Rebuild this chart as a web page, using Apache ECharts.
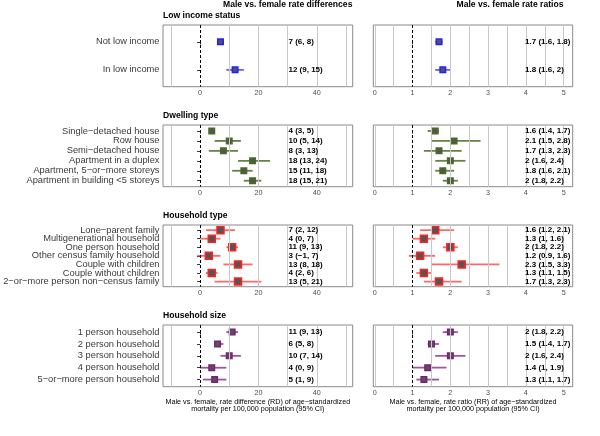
<!DOCTYPE html>
<html>
<head>
<meta charset="utf-8">
<script src="https://cdn.jsdelivr.net/npm/echarts@6/dist/echarts.min.js"></script>
<style>html,body{margin:0;padding:0;background:#fff}#c{width:600px;height:436px}</style>
</head>
<body>
<div id="c"></div>
<script>
// ---- Data ----
const sectionTitles = ['Low income status', 'Dwelling type', 'Household type', 'Household size'];

const incomeLabels = ['Not low income', 'In low income'];
const incomeRD = [7, 12];
const incomeRDLo = [6, 9];
const incomeRDHi = [8, 15];
const incomeRR = [1.7, 1.8];
const incomeRRLo = [1.6, 1.6];
const incomeRRHi = [1.8, 2];

const dwellingLabels = ['Single−detached house', 'Row house', 'Semi−detached house', 'Apartment in a duplex',
  'Apartment, 5−or−more storeys', 'Apartment in building <5 storeys'];
const dwellingRD = [4, 10, 8, 18, 15, 18];
const dwellingRDLo = [3, 5, 3, 13, 11, 15];
const dwellingRDHi = [5, 14, 13, 24, 18, 21];
const dwellingRR = [1.6, 2.1, 1.7, 2, 1.8, 2];
const dwellingRRLo = [1.4, 1.5, 1.3, 1.6, 1.6, 1.8];
const dwellingRRHi = [1.7, 2.8, 2.3, 2.4, 2.1, 2.2];

const hhTypeLabels = ['Lone−parent family', 'Multigenerational household', 'One person household',
  'Other census family household', 'Couple with children', 'Couple without children', '2−or−more person non−census family'];
const hhTypeRD = [7, 4, 11, 3, 13, 4, 13];
const hhTypeRDLo = [2, 0, 9, -1, 8, 2, 5];
const hhTypeRDHi = [12, 7, 13, 7, 18, 6, 21];
const hhTypeRR = [1.6, 1.3, 2, 1.2, 2.3, 1.3, 1.7];
const hhTypeRRLo = [1.2, 1, 1.8, 0.9, 1.5, 1.1, 1.3];
const hhTypeRRHi = [2.1, 1.6, 2.2, 1.6, 3.3, 1.5, 2.3];

const hhSizeLabels = ['1 person household', '2 person household', '3 person household', '4 person household', '5−or−more person household'];
const hhSizeRD = [11, 6, 10, 4, 5];
const hhSizeRDLo = [9, 5, 7, 0, 1];
const hhSizeRDHi = [13, 8, 14, 9, 9];
const hhSizeRR = [2, 1.5, 2, 1.4, 1.3];
const hhSizeRRLo = [1.8, 1.4, 1.6, 1, 1.1];
const hhSizeRRHi = [2.2, 1.7, 2.4, 1.9, 1.7];

const rdTicks = [0, 20, 40];
const rdGridValues = [-10, 10, 20, 30, 40, 50];
const rrTicks = [0, 1, 2, 3, 4, 5];
const rrGridValues = [0, 0.5, 1.5, 2, 2.5, 3, 3.5, 4, 4.5, 5];

// ---- Styling / layout ----
const FONT = 'Liberation Sans, Arial, Helvetica, sans-serif';
const sections = [
  {labels: incomeLabels, rd: [incomeRD, incomeRDLo, incomeRDHi], rr: [incomeRR, incomeRRLo, incomeRRHi], color: '#2020ff', line: 'rgba(40,40,255,0.75)', size: 5.5},
  {labels: dwellingLabels, rd: [dwellingRD, dwellingRDLo, dwellingRDHi], rr: [dwellingRR, dwellingRRLo, dwellingRRHi], color: '#4a6b22', line: 'rgba(74,107,34,0.85)', size: 5.5},
  {labels: hhTypeLabels, rd: [hhTypeRD, hhTypeRDLo, hhTypeRDHi], rr: [hhTypeRR, hhTypeRRLo, hhTypeRRHi], color: '#ff2020', line: 'rgba(255,40,40,0.7)', size: 7},
  {labels: hhSizeLabels, rd: [hhSizeRD, hhSizeRDLo, hhSizeRDHi], rr: [hhSizeRR, hhSizeRRLo, hhSizeRRHi], color: '#7a1f7a', line: 'rgba(122,31,122,0.75)', size: 5.5}
];
const tops = [25, 125, 225, 325];
const PH = 61.7;
const LEFT = {left: 163, width: 189.7, min: -12.7, max: 52.3, ref: 0, textX: 30.3, ticks: rdTicks, gl: rdGridValues};
const RIGHT = {left: 373.3, width: 199.4, min: -0.04, max: 5.24, ref: 1, textX: 3.98, ticks: rrTicks, gl: rrGridValues};

function fmt(v) { return String(v).replace('-', '−'); }

const grid = [], xAxis = [], yAxis = [], series = [], graphic = [];

sections.forEach((s, si) => {
  const n = s.labels.length;
  const idx = s.labels.map((_, i) => i);
  [LEFT, RIGHT].forEach((P, pi) => {
    const gi = si * 2 + pi;
    const vals = pi === 0 ? s.rd : s.rr;
    grid.push({left: P.left, top: tops[si], width: P.width, height: PH, show: true,
      borderColor: '#8a8a8a', borderWidth: 1, backgroundColor: 'transparent'});
    const isBottom = si === 3;
    xAxis.push({
      gridIndex: gi, type: 'value', min: P.min, max: P.max,
      splitLine: {show: false}, axisLine: {show: false},
      axisTick: {show: true, customValues: P.ticks, length: 2.5, lineStyle: {color: '#333', width: 1}},
      axisLabel: {show: true, customValues: P.ticks, margin: 3, fontSize: 7.2, color: '#4d4d4d', fontFamily: FONT,
        showMinLabel: true, showMaxLabel: true, hideOverlap: false},
      name: isBottom ? (pi === 0
        ? 'Male vs. female, rate difference (RD) of age−standardized\nmortality per 100,000 population (95% CI)'
        : 'Male vs. female, rate ratio (RR) of age−standardized\nmortality per 100,000 population (95% CI)') : '',
      nameLocation: 'middle', nameGap: 11,
      nameTextStyle: {fontSize: 7.2, lineHeight: 7.8, color: '#000', fontFamily: FONT, verticalAlign: 'top'}
    });
    yAxis.push({
      gridIndex: gi, type: 'value', inverse: true, min: -0.6, max: n - 0.4,
      splitLine: {show: false}, axisLine: {show: false},
      axisTick: {show: pi === 0, customValues: idx, length: 3, lineStyle: {color: '#333'}},
      axisLabel: {show: false}
    });
    // grid lines + reference line
    series.push({
      type: 'line', xAxisIndex: gi, yAxisIndex: gi, data: [], silent: true,
      markLine: {
        silent: true, symbol: ['none', 'none'], label: {show: false}, animation: false,
        data: P.gl.map(v => ({xAxis: v, lineStyle: {color: '#c8c8c8', width: 1, type: 'solid'}}))
          .concat([{xAxis: P.ref, lineStyle: {color: '#000', width: 1, type: [3, 2]}}])
      }
    });
    // error bars
    series.push({
      type: 'custom', xAxisIndex: gi, yAxisIndex: gi, z: 3,
      data: idx.map(i => [vals[1][i], vals[2][i], i]),
      encode: {x: [0, 1], y: 2},
      renderItem: (params, api) => {
        const a = api.coord([api.value(0), api.value(2)]);
        const b = api.coord([api.value(1), api.value(2)]);
        return {type: 'line', shape: {x1: a[0], y1: a[1], x2: b[0], y2: b[1]},
          style: {stroke: s.line, lineWidth: 1.8}};
      }
    });
    // point estimates
    series.push({
      type: 'scatter', xAxisIndex: gi, yAxisIndex: gi, z: 4, symbol: 'rect', symbolSize: s.size,
      data: idx.map(i => [vals[0][i], i]),
      itemStyle: {color: '#555555', borderColor: s.color, borderWidth: 1.5, opacity: 1}
    });
    // estimate text
    series.push({
      type: 'custom', xAxisIndex: gi, yAxisIndex: gi, z: 5,
      data: idx.map(i => [P.textX, i]),
      encode: {x: 0, y: 1},
      renderItem: (params, api) => {
        const p = api.coord([api.value(0), api.value(1)]);
        const i = params.dataIndex;
        return {type: 'text', x: p[0], y: p[1],
          style: {text: fmt(vals[0][i]) + ' (' + fmt(vals[1][i]) + ', ' + fmt(vals[2][i]) + ')',
            fill: '#000', font: 'bold 8px ' + FONT, textAlign: 'left', textVerticalAlign: 'middle'}};
      }
    });
    // category labels (left panels only), positioned by the y scale
    if (pi === 0) {
      series.push({
        type: 'custom', xAxisIndex: gi, yAxisIndex: gi, z: 5, clip: false,
        data: idx.map(i => [P.min, i]),
        encode: {x: 0, y: 1},
        renderItem: (params, api) => {
          const p = api.coord([api.value(0), api.value(1)]);
          return {type: 'text', x: p[0] - 3.5, y: p[1],
            style: {text: s.labels[params.dataIndex], fill: '#3a3a3a', font: '9.3px ' + FONT,
              textAlign: 'right', textVerticalAlign: 'middle'}};
        }
      });
    }
  });
  graphic.push({type: 'text', left: 163, top: tops[si] - 14,
    style: {text: sectionTitles[si], font: 'bold 8.6px ' + FONT, fill: '#000'}});
});

graphic.push({type: 'text', x: 287.7, y: 5, style: {text: 'Male vs. female rate differences', font: 'bold 8.6px ' + FONT, fill: '#000', textAlign: 'center', textVerticalAlign: 'middle'}});
graphic.push({type: 'text', x: 510, y: 5, style: {text: 'Male vs. female rate ratios', font: 'bold 8.6px ' + FONT, fill: '#000', textAlign: 'center', textVerticalAlign: 'middle'}});

const chart = echarts.init(document.getElementById('c'), null, {renderer: 'canvas'});
chart.setOption({animation: false, grid, xAxis, yAxis, series, graphic});
</script>
</body>
</html>
